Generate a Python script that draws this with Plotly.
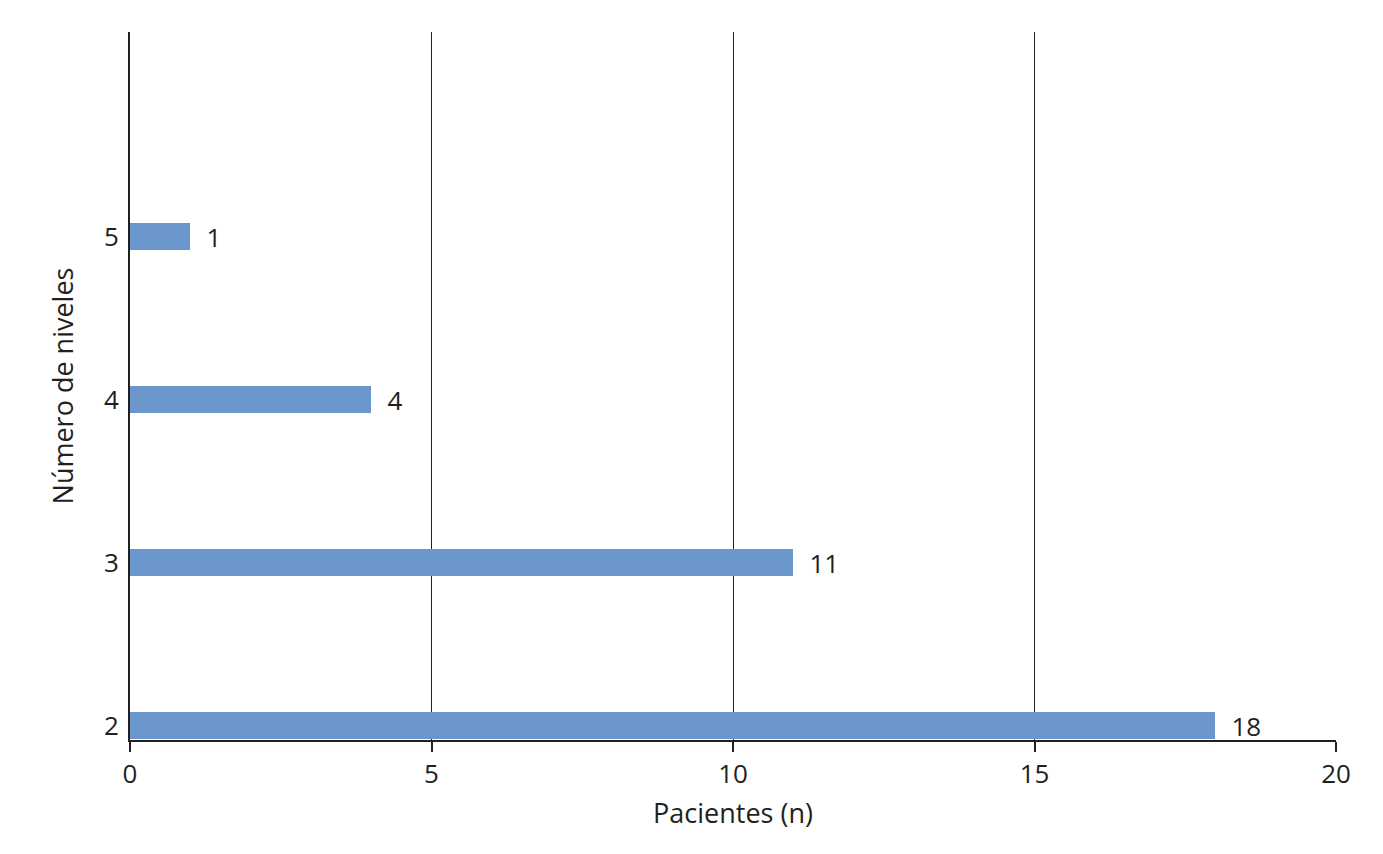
import plotly.graph_objects as go

niveles = [2, 3, 4, 5]
pacientes = [18, 11, 4, 1]
x_ticks = [0, 5, 10, 15, 20]

font_family = "Open Sans, Lato, sans-serif"
txt_color = "#231f20"
fs = 26

fig = go.Figure()
fig.add_trace(go.Bar(
    x=pacientes, y=niveles, orientation="h",
    width=0.166,
    marker=dict(color="#6a96cc", line=dict(width=0)),
    texttemplate="\u00a0\u00a0%{x}",
    textposition="outside",
    constraintext="none",
    textfont=dict(size=fs, color=txt_color, family=font_family),
    cliponaxis=False,
))

fig.update_layout(
    width=1367, height=838,
    margin=dict(l=122, r=39, t=24, b=106),
    paper_bgcolor="white", plot_bgcolor="white",
    showlegend=False,
    font=dict(family=font_family, color=txt_color),
    xaxis=dict(
        range=[0, 20], tickvals=x_ticks,
        showgrid=True, gridcolor="#231f20", gridwidth=1,
        showline=True, linecolor="#231f20", linewidth=2,
        ticks="outside", ticklen=10, tickcolor="#231f20", tickwidth=2,
        tickfont=dict(size=fs, color=txt_color),
        zeroline=False,
        title=dict(text="Pacientes (n)", font=dict(size=27, color=txt_color), standoff=14),
    ),
    yaxis=dict(
        range=[1.911, 6.2546], tickvals=niveles,
        showgrid=False,
        showline=True, linecolor="#231f20", linewidth=2,
        ticks="outside", ticklen=4, tickcolor="rgba(0,0,0,0)",
        tickfont=dict(size=fs, color=txt_color),
        zeroline=False,
        title=dict(text="Número de niveles", font=dict(size=27, color=txt_color), standoff=22),
    ),
    bargap=0,
)

fig.write_html("out.html")
